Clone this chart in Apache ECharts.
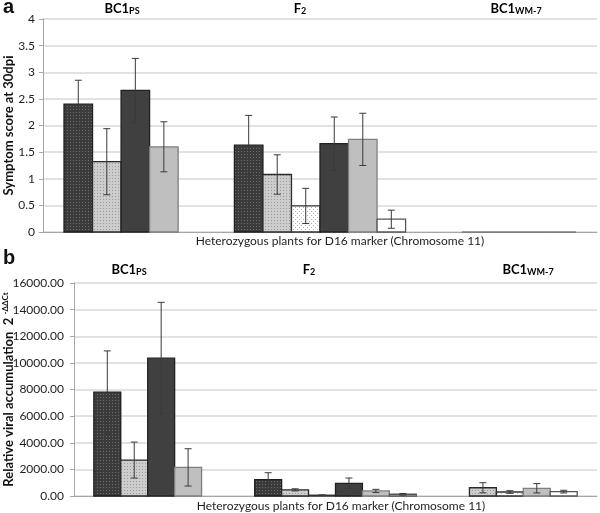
<!DOCTYPE html>
<html><head><meta charset="utf-8">
<script src="https://cdn.jsdelivr.net/npm/echarts@6/dist/echarts.min.js"></script>
<style>html,body{margin:0;padding:0;background:#fff}#c{width:600px;height:513px}</style>
</head><body><div id="c"></div>
<script>
// ---------------- DATA ----------------
const groups = ['BC1PS', 'F2', 'BC1WM-7'];
// Panel a: symptom score at 30 dpi (mean, error)
const scoreBC1PS    = [2.40, 1.32, 2.66, 1.60];
const scoreBC1PSErr = [0.45, 0.62, 0.60, 0.47];
const scoreF2       = [1.63, 1.08, 0.49, 1.66, 1.74, 0.24];
const scoreF2Err    = [0.56, 0.37, 0.33, 0.50, 0.49, 0.17];
const scoreWM7      = [0, 0, 0, 0];
const scoreWM7Err   = [0, 0, 0, 0];
// Panel b: relative viral accumulation 2^-ΔΔCt (mean, error)
const viralBC1PS    = [7800, 2700, 10350, 2150];
const viralBC1PSErr = [3100, 1350, 4200, 1400];
const viralF2       = [1230, 460, 60, 950, 380, 130];
const viralF2Err    = [520, 80, 30, 400, 120, 60];
const viralWM7      = [620, 300, 580, 330];
const viralWM7Err   = [380, 100, 350, 100];
// axis ranges / tick steps
const scoreMax = 4, scoreStep = 0.5;
const viralMax = 16000, viralStep = 2000;
// ---------------- STYLE ----------------
const patternsBC1PS = ['darkDot', 'lightDot', 'darkSolid', 'lightSolid'];
const patternsF2    = ['darkDot', 'lightDot', 'whiteDot', 'darkSolid', 'lightSolid', 'whiteSolid'];
const patternsWM7   = ['lightDot', 'whiteDot', 'lightSolid', 'whiteSolid'];
const groupPatterns = [patternsBC1PS, patternsF2, patternsWM7];
const GROUP_SHIFT = [-0.5, 0, 0.5];   // in bar widths
const BAR_FRAC = 0.1545;              // bar width as fraction of category band
const FONT = 'Lato, "Open Sans", sans-serif';

function tile(size, bg, dot, dots) {
  const c = document.createElement('canvas');
  c.width = size; c.height = size;
  const g = c.getContext('2d');
  g.fillStyle = bg; g.fillRect(0, 0, size, size);
  g.fillStyle = dot;
  dots.forEach(d => g.fillRect(d[0], d[1], 1, 1));
  return { image: c, repeat: 'repeat' };
}
const FILLS = {
  darkDot:   tile(3, '#3b3b3b', '#6e6e6e', [[1, 1]]),
  lightDot:  tile(3, '#cdcdcd', '#9a9a9a', [[1, 1]]),
  whiteDot:  tile(4, '#ffffff', '#b4b4b4', [[1, 1], [3, 3]]),
  darkSolid: '#404040',
  lightSolid:'#bfbfbf',
  whiteSolid:'#ffffff'
};
const STROKES = {
  darkDot: '#1e1e1e', lightDot: '#2a2a2a', whiteDot: '#333333',
  darkSolid: '#222222', lightSolid: '#7f7f7f', whiteSolid: '#555555'
};

function buildData(vals, errs) {
  const out = [];
  vals.forEach((arr, g) => {
    arr.forEach((v, i) => out.push([g, v, i, arr.length, errs[g][i]]));
  });
  return out;
}
const dataA = buildData([scoreBC1PS, scoreF2, scoreWM7], [scoreBC1PSErr, scoreF2Err, scoreWM7Err]);
const dataB = buildData([viralBC1PS, viralF2, viralWM7], [viralBC1PSErr, viralF2Err, viralWM7Err]);

function renderItem(params, api) {
  const g = api.value(0), v = api.value(1), i = api.value(2), n = api.value(3), e = api.value(4);
  const top = api.coord([g, v]);
  const base = api.coord([g, 0]);
  const catW = api.size([1, 0])[0];
  const bw = catW * BAR_FRAC;
  const cx = top[0] + (GROUP_SHIFT[g] + i - (n - 1) / 2) * bw;
  const key = groupPatterns[g][i];
  const children = [{
    type: 'rect',
    shape: { x: cx - bw / 2, y: top[1], width: bw, height: base[1] - top[1] },
    style: { fill: FILLS[key], stroke: v === 0 ? '#555' : STROKES[key], lineWidth: v === 0 ? 1.2 : 1.3 }
  }];
  if (e > 0) {
    const hi = api.coord([g, v + e])[1];
    const lo = api.coord([g, Math.max(v - e, 0)])[1];
    const st = { stroke: '#3a3a3a', lineWidth: 1 };
    const cw = 3.5;
    children.push({ type: 'line', shape: { x1: cx, y1: hi, x2: cx, y2: lo }, style: st });
    children.push({ type: 'line', shape: { x1: cx - cw, y1: hi, x2: cx + cw, y2: hi }, style: st });
    children.push({ type: 'line', shape: { x1: cx - cw, y1: lo, x2: cx + cw, y2: lo }, style: st });
  }
  return { type: 'group', children };
}

const axisLineStyle = { color: '#a6a6a6', width: 1 };
const tickLabel = { fontFamily: FONT, fontSize: 12, color: '#1e1e1e' };
const groupRich = {
  b: { fontFamily: FONT, fontSize: 13, fontWeight: 'bold', color: '#111' },
  s: { fontFamily: FONT, fontSize: 9, fontWeight: 'bold', color: '#111', verticalAlign: 'bottom', padding: [5, 0, 0, 0] }
};
function groupLabel(x, y, main, sub) {
  return { type: 'text', x: x, y: y, style: { text: '{b|' + main + '}{s|' + sub + '}', rich: groupRich, align: 'center', verticalAlign: 'middle' } };
}

const chart = echarts.init(document.getElementById('c'), null, { renderer: 'canvas' });
chart.setOption({
  animation: false,
  backgroundColor: '#fff',
  grid: [
    { left: 43, right: 3, top: 19, height: 213, containLabel: false, outerBoundsMode: 'none' },
    { left: 74, right: 3, top: 283, height: 213, containLabel: false, outerBoundsMode: 'none' }
  ],
  xAxis: [0, 1].map(k => ({
    type: 'category', gridIndex: k, data: groups,
    axisLine: { lineStyle: axisLineStyle }, axisTick: { show: false }, axisLabel: { show: false }
  })),
  yAxis: [
    {
      type: 'value', gridIndex: 0, min: 0, max: scoreMax, interval: scoreStep,
      name: 'Symptom score at 30dpi', nameLocation: 'middle', nameGap: 28, nameMoveOverlap: false,
      nameTextStyle: { fontFamily: FONT, fontSize: 13, fontWeight: 'bold', color: '#111' },
      axisLine: { show: true, lineStyle: axisLineStyle },
      axisTick: { show: true, length: 4, lineStyle: axisLineStyle },
      axisLabel: Object.assign({ margin: 8 }, tickLabel),
      splitLine: { lineStyle: { color: '#d9d9d9', width: 1.5 } }
    },
    {
      type: 'value', gridIndex: 1, min: 0, max: viralMax, interval: viralStep,
      name: '{t|Relative viral accumulation  2 }{s|-ΔΔCt}', nameLocation: 'middle', nameGap: 57, nameMoveOverlap: false,
      nameTextStyle: {
        rich: {
          t: { fontFamily: FONT, fontSize: 13, fontWeight: 'bold', color: '#111', lineHeight: 16 },
          s: { fontFamily: FONT, fontSize: 8, fontWeight: 'bold', color: '#111', verticalAlign: 'top', lineHeight: 16 }
        }
      },
      axisLine: { show: true, lineStyle: axisLineStyle },
      axisTick: { show: true, length: 4, lineStyle: axisLineStyle },
      axisLabel: Object.assign({ margin: 10, formatter: v => v.toFixed(2) }, tickLabel),
      splitLine: { lineStyle: { color: '#d9d9d9', width: 1.5 } }
    }
  ],
  series: [
    { type: 'custom', xAxisIndex: 0, yAxisIndex: 0, renderItem, data: dataA, encode: { x: 0, y: 1 }, clip: false },
    { type: 'custom', xAxisIndex: 1, yAxisIndex: 1, renderItem, data: dataB, encode: { x: 0, y: 1 }, clip: false }
  ],
  graphic: [
    { type: 'text', x: 3, y: -3, style: { text: 'a', fontFamily: 'Liberation Sans, Arial, sans-serif', fontSize: 20, fontWeight: 'bold', fill: '#111' } },
    { type: 'text', x: 3, y: 248, style: { text: 'b', fontFamily: 'Liberation Sans, Arial, sans-serif', fontSize: 20, fontWeight: 'bold', fill: '#111' } },
    groupLabel(122, 9, 'BC1', 'PS'),
    groupLabel(300, 9, 'F', '2'),
    groupLabel(516, 9, 'BC1', 'WM-7'),
    groupLabel(129, 270, 'BC1', 'PS'),
    groupLabel(309, 270, 'F', '2'),
    groupLabel(528, 270, 'BC1', 'WM-7'),
    { type: 'text', x: 340, y: 241, style: { text: 'Heterozygous plants for D16 marker (Chromosome 11)', fontFamily: FONT, fontSize: 12, fill: '#1e1e1e', align: 'center', verticalAlign: 'middle' } },
    { type: 'text', x: 341, y: 506, style: { text: 'Heterozygous plants for D16 marker (Chromosome 11)', fontFamily: FONT, fontSize: 12, fill: '#1e1e1e', align: 'center', verticalAlign: 'middle' } }
  ]
});
</script></body></html>
